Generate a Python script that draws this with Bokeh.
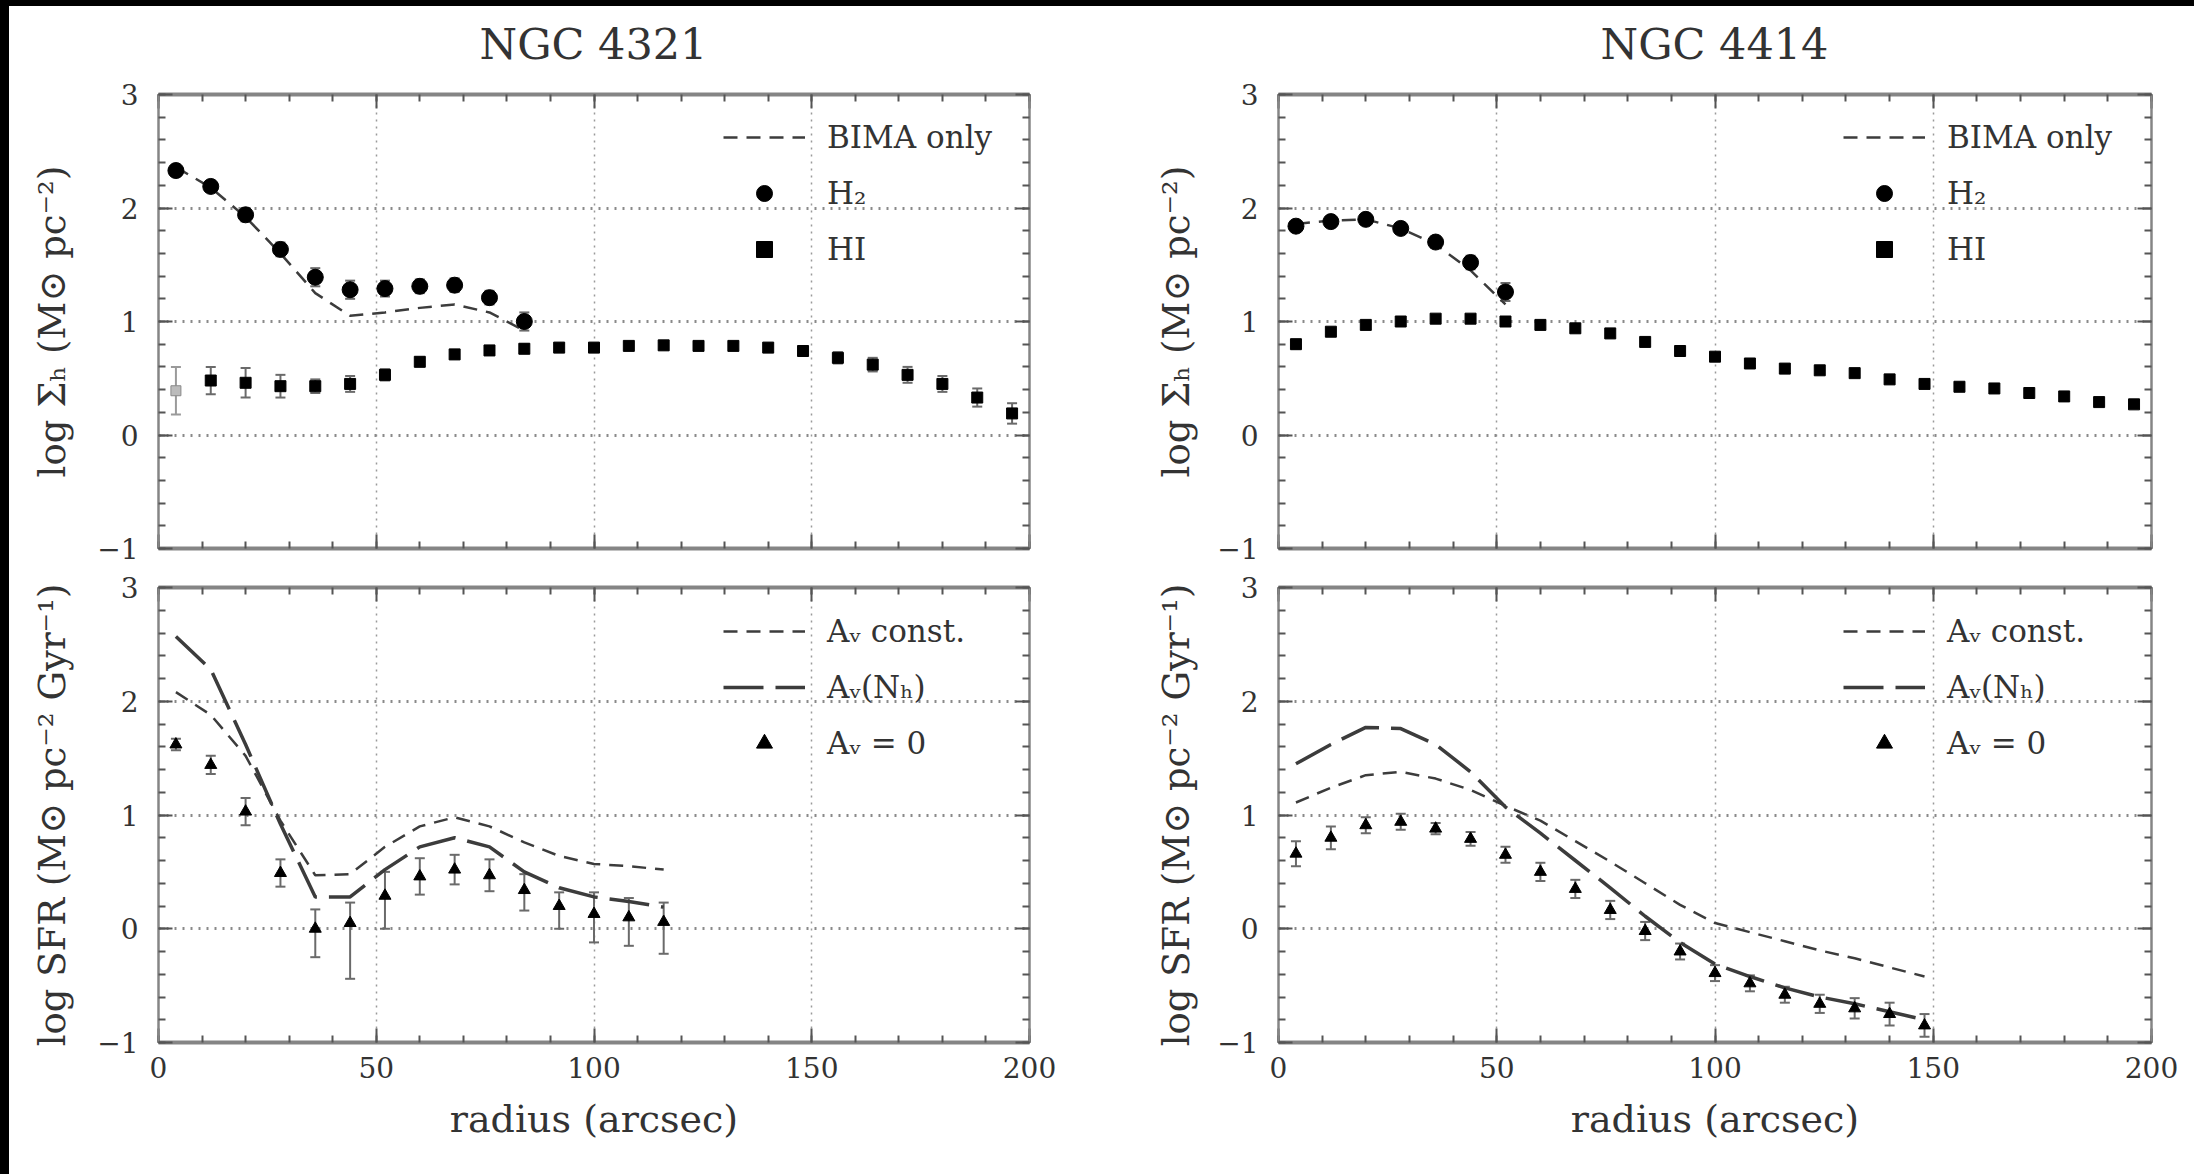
import numpy as np
from bokeh.plotting import figure
from bokeh.models import (ColumnDataSource, Whisker, TeeHead, LinearAxis, SingleIntervalTicker,
                          FixedTicker, Legend, LegendItem, Spacer, Range1d, CustomJSTickFormatter,
                          Div)
from bokeh.layouts import row, column
from bokeh.embed import file_html
from bokeh.resources import INLINE

# ---------------- data ----------------
# NGC 4321 gas
r4321_h2 = [4, 12, 20, 28, 36, 44, 52, 60, 68, 76, 84]
h2_4321 = [2.33, 2.19, 1.94, 1.635, 1.39, 1.28, 1.29, 1.31, 1.32, 1.21, 1.0]
h2_4321_err = [0.05, 0.05, 0.06, 0.06, 0.08, 0.08, 0.07, 0.06, 0.06, 0.06, 0.08]
bima_4321 = [2.36, 2.18, 1.92, 1.60, 1.25, 1.05, 1.08, 1.12, 1.15, 1.08, 0.92]
r4321_hi = [4, 12, 20, 28, 36, 44, 52, 60, 68, 76, 84, 92, 100, 108, 116, 124, 132, 140,
            148, 156, 164, 172, 180, 188, 196]
hi_4321 = [0.39, 0.48, 0.46, 0.43, 0.43, 0.45, 0.53, 0.645, 0.71, 0.745, 0.76, 0.77, 0.77,
           0.785, 0.79, 0.785, 0.785, 0.77, 0.74, 0.68, 0.62, 0.53, 0.45, 0.33, 0.19]
hi_4321_err = [0.21, 0.12, 0.13, 0.10, 0.06, 0.07, 0.05, 0.04, 0.04, 0.04, 0.04, 0.03, 0.03,
               0.03, 0.03, 0.03, 0.03, 0.03, 0.04, 0.05, 0.06, 0.07, 0.07, 0.08, 0.09]

# NGC 4414 gas
r4414_h2 = [4, 12, 20, 28, 36, 44, 52]
h2_4414 = [1.84, 1.88, 1.90, 1.82, 1.70, 1.52, 1.26]
h2_4414_err = [0.05, 0.05, 0.05, 0.05, 0.05, 0.06, 0.08]
bima_4414 = [1.86, 1.89, 1.90, 1.82, 1.68, 1.45, 1.15]
r4414_hi = [4, 12, 20, 28, 36, 44, 52, 60, 68, 76, 84, 92, 100, 108, 116, 124, 132, 140,
            148, 156, 164, 172, 180, 188, 196]
hi_4414 = [0.80, 0.91, 0.97, 1.0, 1.025, 1.025, 1.0, 0.97, 0.94, 0.895, 0.82, 0.74, 0.69,
           0.63, 0.585, 0.57, 0.545, 0.49, 0.45, 0.425, 0.41, 0.37, 0.34, 0.29, 0.27]
hi_4414_err = [0.04, 0.03, 0.03, 0.03, 0.03, 0.03, 0.03, 0.03, 0.03, 0.03, 0.03, 0.03, 0.03,
               0.03, 0.03, 0.03, 0.03, 0.03, 0.03, 0.03, 0.03, 0.03, 0.03, 0.03, 0.03]

# NGC 4321 SFR
r4321_sfr = [4, 12, 20, 28, 36, 44, 52, 60, 68, 76, 84, 92, 100, 108, 116]
sfr0_4321 = [1.62, 1.44, 1.03, 0.49, 0.0, 0.05, 0.29, 0.46, 0.52, 0.47, 0.34, 0.20, 0.13, 0.10, 0.06]
sfr0_4321_elo = [0.05, 0.08, 0.12, 0.12, 0.25, 0.49, 0.29, 0.16, 0.13, 0.14, 0.18, 0.20, 0.25, 0.25, 0.28]
sfr0_4321_ehi = [0.05, 0.08, 0.12, 0.12, 0.17, 0.18, 0.21, 0.16, 0.13, 0.14, 0.14, 0.12, 0.19, 0.17, 0.17]
avconst_4321 = [2.08, 1.88, 1.52, 0.95, 0.47, 0.48, 0.72, 0.90, 0.98, 0.90, 0.76, 0.64, 0.57, 0.55, 0.52]
avnh_4321 = [2.57, 2.28, 1.62, 0.92, 0.28, 0.28, 0.52, 0.72, 0.80, 0.72, 0.50, 0.36, 0.28, 0.24, 0.19]

# NGC 4414 SFR
r4414_sfr = [4, 12, 20, 28, 36, 44, 52, 60, 68, 76, 84, 92, 100, 108, 116, 124, 132, 140, 148]
sfr0_4414 = [0.66, 0.80, 0.91, 0.94, 0.88, 0.79, 0.65, 0.50, 0.35, 0.165, -0.02, -0.20, -0.39,
             -0.48, -0.58, -0.66, -0.70, -0.75, -0.85]
sfr0_4414_err = [0.11, 0.10, 0.07, 0.07, 0.05, 0.06, 0.07, 0.08, 0.08, 0.08, 0.08, 0.07, 0.07,
                 0.07, 0.07, 0.08, 0.09, 0.10, 0.10]
avconst_4414 = [1.11, 1.24, 1.35, 1.38, 1.32, 1.22, 1.08, 0.95, 0.77, 0.59, 0.40, 0.21, 0.05,
                -0.03, -0.11, -0.19, -0.26, -0.34, -0.42]
avnh_4414 = [1.45, 1.62, 1.77, 1.76, 1.62, 1.38, 1.07, 0.84, 0.60, 0.36, 0.11, -0.12, -0.31,
             -0.42, -0.52, -0.60, -0.66, -0.73, -0.80]

titles = ["NGC 4321", "NGC 4414"]
xlabel = "radius (arcsec)"
ylabel_gas = "log \u03a3\u2095 (M\u2299 pc\u207b\u00b2)"
ylabel_sfr = "log SFR (M\u2299 pc\u207b\u00b2 Gyr\u207b\u00b9)"
leg_gas = ["BIMA only", "H\u2082", "HI"]
leg_sfr = ["A\u1d65 const.", "A\u1d65(N\u2095)", "A\u1d65 = 0"]

FONT = "DejaVu Serif"
TXT = "#333333"
FRAME = "#858585"
LINE = "#3c3c3c"
ERR = "#6a6a6a"
SHORT = "14 9"
LONG = "40 12"


def make_fig(w, h, left, right, top, bottom, xlabels=True, ylabel="", ylab_standoff=28):
    p = figure(width=w, height=h, output_backend="svg", toolbar_location=None,
               x_range=Range1d(0, 200), y_range=Range1d(-1, 3),
               min_border_left=left, min_border_right=right, min_border_top=top,
               min_border_bottom=bottom, background_fill_color="white",
               border_fill_color="white", outline_line_color=FRAME, outline_line_width=2)
    p.xaxis.visible = False
    p.yaxis.visible = False
    xt = SingleIntervalTicker(interval=50, num_minor_ticks=5)
    yt = SingleIntervalTicker(interval=1, num_minor_ticks=5)
    axes = []
    for loc, is_x, labels in [("below", True, xlabels), ("above", True, False),
                              ("left", False, True), ("right", False, False)]:
        ax = LinearAxis(ticker=xt if is_x else yt)
        ax.major_tick_in = 14
        ax.major_tick_out = 0
        ax.minor_tick_in = 7
        ax.minor_tick_out = 0
        ax.major_tick_line_color = "#555555"
        ax.major_tick_line_width = 2
        ax.minor_tick_line_color = "#555555"
        ax.minor_tick_line_width = 2
        ax.axis_line_color = FRAME
        ax.axis_line_width = 4 if is_x else 2
        if labels:
            ax.major_label_text_font = FONT
            ax.major_label_text_font_size = "28px"
            ax.major_label_text_color = TXT
            ax.major_label_standoff = 14 if is_x else 20
        else:
            ax.formatter = CustomJSTickFormatter(code="return ''")
            ax.major_label_standoff = 0
        p.add_layout(ax, loc)
        axes.append(ax)
    if xlabels:
        axes[0].axis_label = xlabel
        axes[0].axis_label_text_font = FONT
        axes[0].axis_label_text_font_size = "38px"
        axes[0].axis_label_text_font_style = "normal"
        axes[0].axis_label_text_color = TXT
        axes[0].axis_label_standoff = 16
    axes[2].axis_label = ylabel
    axes[2].axis_label_text_font = FONT
    axes[2].axis_label_text_font_size = "37px"
    axes[2].axis_label_text_font_style = "normal"
    axes[2].axis_label_text_color = TXT
    axes[2].axis_label_standoff = ylab_standoff

    p.xgrid.ticker = FixedTicker(ticks=[50, 100, 150])
    p.xgrid.grid_line_color = "#9a9a9a"
    p.xgrid.grid_line_width = 1.5
    p.xgrid.grid_line_dash = "2 5"
    p.ygrid.ticker = FixedTicker(ticks=[0, 1, 2])
    p.ygrid.grid_line_color = "#8a8a8a"
    p.ygrid.grid_line_width = 3
    p.ygrid.grid_line_dash = "2 6"
    return p


def title_div(text, w, left, frame_w):
    html = ('<div style="margin-left:%dpx;width:%dpx;text-align:center;padding-top:17px;'
            'line-height:43px;font-family:\'DejaVu Serif\';font-size:43px;color:%s;'
            'white-space:nowrap">%s</div>' % (left, frame_w, TXT, text))
    return Div(text=html, width=w, height=60, margin=(0, 0, 0, 0),
               styles={"background-color": "white"})


def errbars(p, x, y, elo, ehi, color=ERR, cap=10, width=2):
    y = np.array(y)
    src = ColumnDataSource(dict(x=x, lo=y - np.array(elo), hi=y + np.array(ehi)))
    w = Whisker(source=src, base="x", lower="lo", upper="hi", dimension="height",
                line_color=color, line_width=width,
                lower_head=TeeHead(size=cap, line_color=color, line_width=width),
                upper_head=TeeHead(size=cap, line_color=color, line_width=width))
    p.add_layout(w)


def legend(p, items):
    lg = Legend(items=items, location=(565, 279), orientation="vertical",
                border_line_alpha=0, background_fill_alpha=0, padding=0, margin=0,
                glyph_width=82, glyph_height=40, label_height=40, spacing=16,
                label_standoff=22, label_text_font=FONT, label_text_font_size="31px",
                label_text_color=TXT)
    p.add_layout(lg, "center")


def gas_panel(p, r_h2, h2, h2e, bima, r_hi, hi, hie, faint_first=False):
    bl = p.line(r_h2, bima, line_color=LINE, line_width=2.5, line_dash=SHORT)
    if faint_first:
        errbars(p, r_hi[:1], hi[:1], hie[:1], hie[:1], color="#9a9a9a")
        p.scatter(r_hi[:1], hi[:1], marker="square", size=10, fill_color="#bbbbbb",
                  line_color="#8a8a8a")
        errbars(p, r_hi[1:], hi[1:], hie[1:], hie[1:])
        sq = p.scatter(r_hi[1:], hi[1:], marker="square", size=11, color="black")
    else:
        errbars(p, r_hi, hi, hie, hie)
        sq = p.scatter(r_hi, hi, marker="square", size=11, color="black")
    errbars(p, r_h2, h2, h2e, h2e)
    ci = p.scatter(r_h2, h2, marker="circle", size=16, color="black")
    legend(p, [LegendItem(label=leg_gas[0], renderers=[bl]),
               LegendItem(label=leg_gas[1], renderers=[ci]),
               LegendItem(label=leg_gas[2], renderers=[sq])])


def sfr_panel(p, r, s0, elo, ehi, avc, avn):
    lc = p.line(r, avc, line_color=LINE, line_width=2.5, line_dash=SHORT)
    ln = p.line(r, avn, line_color=LINE, line_width=3.5, line_dash=LONG)
    errbars(p, r, s0, elo, ehi)
    tr = p.scatter(r, s0, marker="triangle", size=12, color="black")
    legend(p, [LegendItem(label=leg_sfr[0], renderers=[lc]),
               LegendItem(label=leg_sfr[1], renderers=[ln]),
               LegendItem(label=leg_sfr[2], renderers=[tr])])


tl = make_fig(1141, 501, 149, 121, 28, 19, xlabels=False, ylabel=ylabel_gas, ylab_standoff=20)
tr_ = make_fig(1044, 501, 128, 43, 28, 19, xlabels=False, ylabel=ylabel_gas, ylab_standoff=16)
bl_ = make_fig(1141, 607, 149, 121, 20, 132, xlabels=True, ylabel=ylabel_sfr, ylab_standoff=20)
br = make_fig(1044, 607, 128, 43, 20, 132, xlabels=True, ylabel=ylabel_sfr, ylab_standoff=16)

gas_panel(tl, r4321_h2, h2_4321, h2_4321_err, bima_4321, r4321_hi, hi_4321, hi_4321_err,
          faint_first=True)
gas_panel(tr_, r4414_h2, h2_4414, h2_4414_err, bima_4414, r4414_hi, hi_4414, hi_4414_err)
sfr_panel(bl_, r4321_sfr, sfr0_4321, sfr0_4321_elo, sfr0_4321_ehi, avconst_4321, avnh_4321)
sfr_panel(br, r4414_sfr, sfr0_4414, sfr0_4414_err, sfr0_4414_err, avconst_4414, avnh_4414)

tdl = title_div(titles[0], 1141, 149, 871)
tdr = title_div(titles[1], 1044, 128, 873)

top_band = Spacer(width=2194, height=6, styles={"background-color": "black"})
left_band = Spacer(width=9, height=1168, styles={"background-color": "black"})
grid = column(row(tdl, tdr), row(tl, tr_), row(bl_, br))
layout = column(top_band, row(left_band, grid))

open("out.html", "w").write(file_html(layout, INLINE))
